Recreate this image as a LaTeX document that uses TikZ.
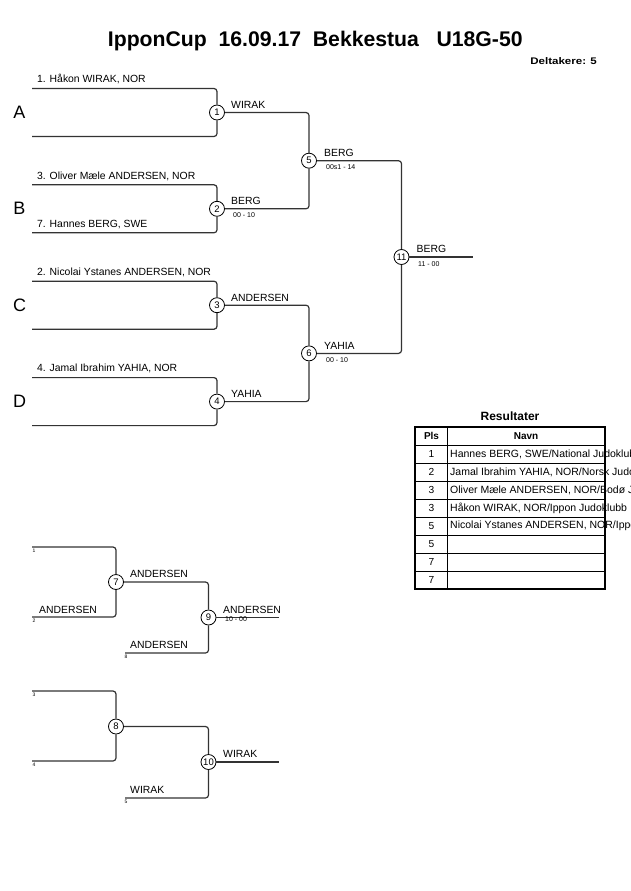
\documentclass[tikz,border=0pt]{standalone}
\usepackage{fontspec}
\setmainfont{Liberation Sans}
\begin{document}
\begin{tikzpicture}[x=1pt,y=-1pt,
  br/.style={line width=1.2pt, draw=black!80, rounded corners=3pt},
  mt/.style={circle, draw, line width=0.8pt, fill=white, minimum size=15pt, inner sep=0pt, font=\fontsize{9.5}{10}\selectfont},
  nm/.style={anchor=base west, inner sep=0pt, font=\fontsize{10.4}{12}\selectfont},
  sc/.style={anchor=base west, inner sep=0pt, font=\fontsize{7}{8}\selectfont},
  tn/.style={anchor=north west, inner sep=0pt, font=\fontsize{5}{6}\selectfont},
  grp/.style={anchor=center, inner sep=0pt, font=\fontsize{18}{20}\selectfont},
  tcell/.style={anchor=center, inner sep=0pt, font=\fontsize{10.2}{12}\selectfont},
  tname/.style={anchor=west, inner sep=0pt, font=\fontsize{10.5}{12}\selectfont},
  thead/.style={anchor=center, inner sep=0pt, font=\bfseries\fontsize{10}{12}\selectfont}]
\useasboundingbox[fill=white] (0,0) rectangle (630,891);

% title
\node[anchor=base, inner sep=0pt, font=\bfseries\fontsize{21.2}{24}\selectfont] (title) at (315.3,46.7) {IpponCup~~16.09.17~~Bekkestua~~~U18G-50};
\node[anchor=base east, inner sep=0pt, font=\bfseries\fontsize{9.6}{11}\selectfont] (delt) at (597,64) {\scalebox{1.2}[1]{Deltakere: 5}};

% main bracket matches
\node[mt] (m1) at (217,112.5) {1};
\node[mt] (m2) at (217,208.8) {2};
\node[mt] (m3) at (217,305.2) {3};
\node[mt] (m4) at (217,401.6) {4};
\node[mt] (m5) at (309,160.7) {5};
\node[mt] (m6) at (309,353.4) {6};
\node[mt] (m11) at (401.5,257) {11};

\coordinate (a1) at (32,88.5);  \coordinate (a2) at (32,136.5);
\coordinate (b1) at (32,184.8); \coordinate (b2) at (32,232.8);
\coordinate (c1) at (32,281.2); \coordinate (c2) at (32,329.2);
\coordinate (d1) at (32,377.6); \coordinate (d2) at (32,425.6);
\coordinate (e11) at (473,257);

\draw[br] (a1) -| (m1); \draw[br] (a2) -| (m1);
\draw[br] (b1) -| (m2); \draw[br] (b2) -| (m2);
\draw[br] (c1) -| (m3); \draw[br] (c2) -| (m3);
\draw[br] (d1) -| (m4); \draw[br] (d2) -| (m4);
\draw[br] (m1) -| (m5); \draw[br] (m2) -| (m5);
\draw[br] (m3) -| (m6); \draw[br] (m4) -| (m6);
\draw[br] (m5) -| (m11); \draw[br] (m6) -| (m11);
\draw[br] (m11) -- (e11);

% group letters
\node[grp] (gA) at (19.5,112.5) {A};
\node[grp] (gB) at (19.5,208.8) {B};
\node[grp] (gC) at (19.5,305.2) {C};
\node[grp] (gD) at (19.5,401.6) {D};

% competitors
\node[nm] (pA1) at (37,82.8) {1. Håkon WIRAK, NOR};
\node[nm] (pB1) at (37,179) {3. Oliver Mæle ANDERSEN, NOR};
\node[nm] (pB2) at (37,227.8) {7. Hannes BERG, SWE};
\node[nm] (pC1) at (37,275.2) {2. Nicolai Ystanes ANDERSEN, NOR};
\node[nm] (pD1) at (37,371.6) {4. Jamal Ibrahim YAHIA, NOR};

% winners and scores
\node[nm] (w1) at (231,108.5) {WIRAK};
\node[nm] (w2) at (231,204.8) {BERG};
\node[sc] (s2) at (233,217.8) {00 - 10};
\node[nm] (w3) at (231,301) {ANDERSEN};
\node[nm] (w4) at (231,397.4) {YAHIA};
\node[nm] (w5) at (324,156.7) {BERG};
\node[sc] (s5) at (326,169.5) {00s1 - 14};
\node[nm] (w6) at (324,349.2) {YAHIA};
\node[sc] (s6) at (326,362.2) {00 - 10};
\node[nm] (w11) at (416.5,252.8) {BERG};
\node[sc] (s11) at (418,266.2) {11 - 00};

% repechage
\node[mt] (m7) at (116,582) {7};
\node[mt] (m8) at (116,726.5) {8};
\node[mt] (m9) at (208.5,617.5) {9};
\node[mt] (m10) at (208.5,762) {10};

\coordinate (r1) at (32,547);  \coordinate (r2) at (32,617);
\coordinate (r8) at (125,653); \coordinate (e9) at (279,617.5);
\coordinate (r3) at (32,691);  \coordinate (r4) at (32,761);
\coordinate (r5) at (125,798); \coordinate (e10) at (279,762);

\draw[br] (r1) -| (m7); \draw[br] (r2) -| (m7);
\draw[br] (m7) -| (m9); \draw[br] (r8) -| (m9);
\draw[br] (m9) -- (e9);
\draw[br] (r3) -| (m8); \draw[br] (r4) -| (m8);
\draw[br] (m8) -| (m10); \draw[br] (r5) -| (m10);
\draw[br] (m10) -- (e10);

\node[tn] (t1) at (32.5,548.5) {1};
\node[tn] (t2) at (32.5,618.5) {2};
\node[tn] (t8) at (124.5,654.5) {8};
\node[tn] (t3) at (32.5,692.5) {3};
\node[tn] (t4) at (32.5,762.5) {4};
\node[tn] (t5) at (124.5,799.5) {5};

\node[nm] (rw2) at (39,613.3) {ANDERSEN};
\node[nm] (rw7) at (130,577.6) {ANDERSEN};
\node[nm] (rw8) at (130,648.6) {ANDERSEN};
\node[nm] (rw9) at (223,613) {ANDERSEN};
\node[sc] (rs9) at (225,621) {10 - 00};
\node[nm] (rw10) at (223,757.8) {WIRAK};
\node[nm] (rw5) at (130,793.4) {WIRAK};

% results table
\node[anchor=center, inner sep=0pt, font=\bfseries\fontsize{12}{14}\selectfont] (restitle) at (510,416) {Resultater};
\begin{scope}
\clip (0,0) rectangle (630,891);
\foreach \i/\p/\n in {1/1/{Hannes BERG, SWE/National Judoklubb},
                      2/2/{Jamal Ibrahim YAHIA, NOR/Norsk Judoklubb},
                      3/3/{Oliver Mæle ANDERSEN, NOR/Bodø Judoklubb},
                      4/3/{Håkon WIRAK, NOR/Ippon Judoklubb},
                      5/5/{Nicolai Ystanes ANDERSEN, NOR/Ippon Judoklubb},
                      6/5/{}, 7/7/{}, 8/7/{}}{
  \node[tcell] (pl\i) at (431.5,{454+18*(\i-1)}) {\p};
  \node[tname] (nv\i) at (450,{454+18*(\i-1)}) {\n};
}
\end{scope}
\foreach \k in {0,...,7}{
  \draw[line width=0.8pt] (415,{445+18*\k}) -- (605,{445+18*\k});
}
\draw[line width=0.8pt] (447,427) -- (447,589);
\draw[line width=1.6pt] (415,427) rectangle (605,589);
\node[thead] (hpls) at (431.5,436) {Pls};
\node[thead] (hnavn) at (526,436) {Navn};
\end{tikzpicture}
\end{document}
